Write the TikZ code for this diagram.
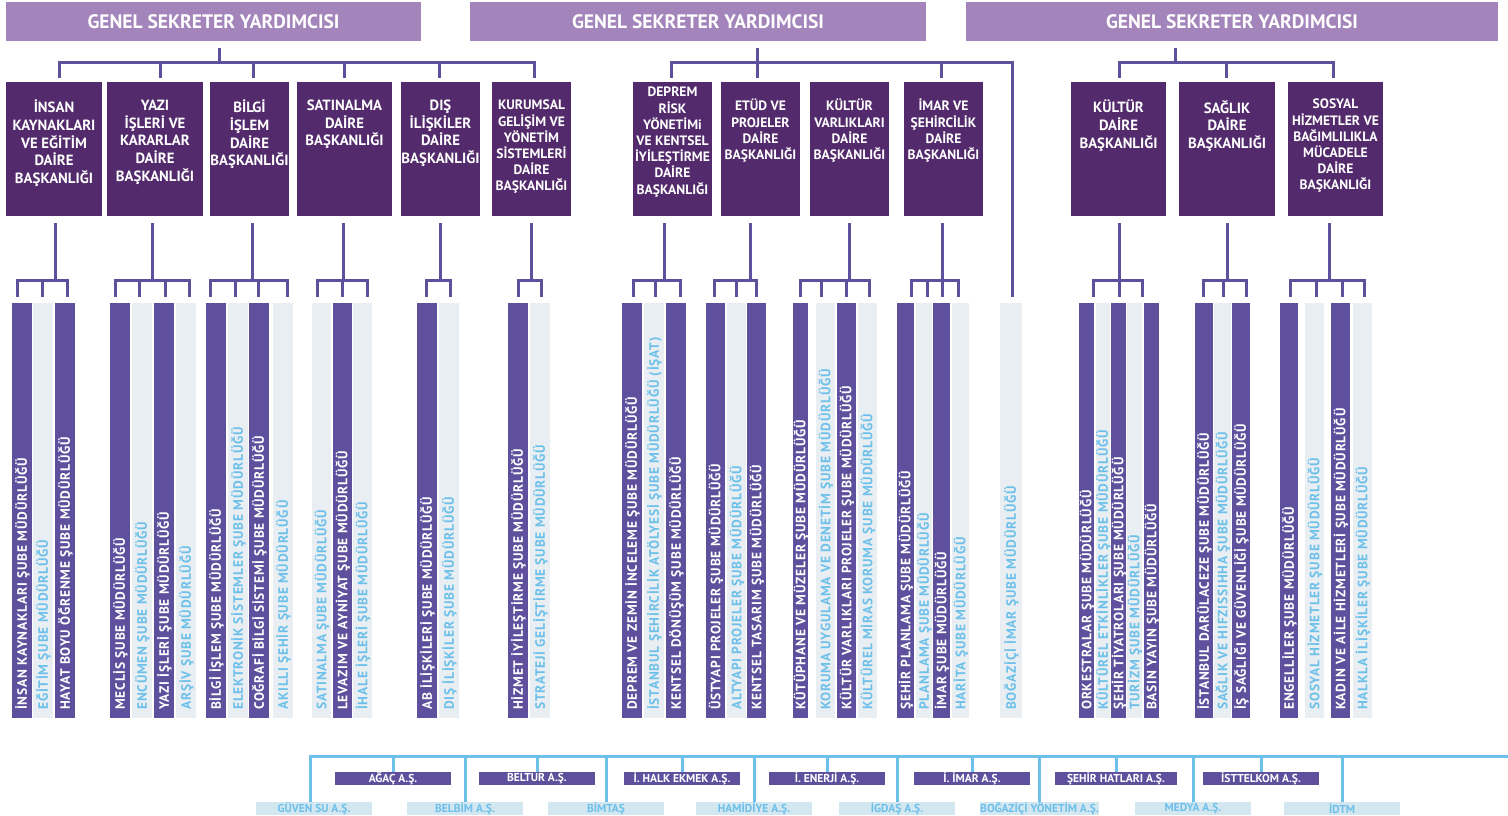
\documentclass[tikz,border=0pt]{standalone}
\usepackage{fontspec}
\setmainfont{PT Sans}
\newfontfamily\barfont[LetterSpace=6]{PT Sans}
\usetikzlibrary{calc}
\definecolor{hdr}{HTML}{A385BB}
\definecolor{dbx}{HTML}{532A6B}
\definecolor{pbar}{HTML}{5E509D}
\definecolor{lbar}{HTML}{E9EEF2}
\definecolor{ltxt}{HTML}{6CC0EA}
\definecolor{lbox}{HTML}{D3E7F1}
\newcommand{\mkdbox}[8]{%
  \node[dbxs, minimum width={#3-#2}] (#1) at ({(#2+#3)/2},149) {};
  \node[#4] (#1t) at ({(#2+#3)/2},#5) {#8};
  \coordinate (#1u) at (#6,78);
  \coordinate (#1l) at (#7,223);
}
\newcommand{\mkbar}[6]{%
  \node[#4, minimum width={#3-#2}] (#1) at ({(#2+#3)/2},510.5) {};
  \node[#4t] (#1t) at ({(#2+#3)/2+4.8},710) {#6};
  \coordinate (#1d) at (#5,297);
}
\newcommand{\compU}[4]{\node[cpu, minimum width=#3] (#1) at ({#2+#3/2},778.5) {#4};}
\newcommand{\compL}[4]{\node[cpl, minimum width=#3] (#1) at ({#2+#3/2},808.5) {#4};}
\newcommand{\subt}[3]{\draw[conn] (#1l) -- (#1l |- sy); \draw[conn] (#2d) -- (#2d |- sy) -- (#3d |- sy) -- (#3d);}
\newcommand{\drp}[1]{\draw[conn] (#1d) -- (#1d |- sy);}
\tikzset{
 conn/.style={draw=pbar, line width=3pt},
 bconn/.style={draw=ltxt, line width=3pt},
 hdrbox/.style={fill=hdr, text=white, font=\bfseries\fontsize{19.5}{22}\selectfont, minimum height=39, inner sep=0},
 dbxs/.style={fill=dbx, minimum height=134, inner sep=0},
 dbig/.style={text=white, font=\bfseries\fontsize{14.8}{17.6}\selectfont, align=center, anchor=north, inner sep=0},
 dsmall/.style={text=white, font=\bfseries\fontsize{13.6}{16.2}\selectfont, align=center, anchor=north, inner sep=0},
 pb/.style={fill=pbar, minimum height=415, inner sep=0},
 lb/.style={fill=lbar, minimum height=415, inner sep=0},
 pbt/.style={text=white, rotate=90, anchor=base west, inner sep=0, font=\barfont\bfseries\fontsize{13.5}{14}\selectfont},
 lbt/.style={text=ltxt, rotate=90, anchor=base west, inner sep=0, font=\barfont\bfseries\fontsize{13.5}{14}\selectfont},
 cpu/.style={fill=pbar, text=white, minimum height=13, inner sep=0, font=\bfseries\fontsize{11.5}{12}\selectfont},
 cpl/.style={fill=lbox, text=ltxt, minimum height=13, inner sep=0, font=\bfseries\fontsize{11.5}{12}\selectfont},
}
\begin{document}
\begin{tikzpicture}[x=1pt,y=-1pt]
\useasboundingbox (0,0) rectangle (1508,815);
% headers
\node[hdrbox, minimum width=415] (h1) at (213.5,21.5) {GENEL SEKRETER YARDIMCISI};
\node[hdrbox, minimum width=456] (h2) at (698,21.5) {GENEL SEKRETER YARDIMCISI};
\node[hdrbox, minimum width=532] (h3) at (1232,21.5) {GENEL SEKRETER YARDIMCISI};
\coordinate (h1s) at (219,48); \coordinate (tb1) at (219,62);
\coordinate (h2s) at (757,48); \coordinate (tb2) at (757,62);
\coordinate (h3s) at (1175,48); \coordinate (tb3) at (1175,62);
\coordinate (sy) at (0,280);
\coordinate (bend) at (1508,756);
% department boxes
\mkdbox{d1}{6}{102}{dbig}{100}{59}{55}{İNSAN\\KAYNAKLARI\\VE EĞİTİM\\DAİRE\\BAŞKANLIĞI}
\mkdbox{d2}{107}{203}{dbig}{100}{160}{152}{YAZI\\İŞLERİ VE\\KARARLAR\\DAİRE\\BAŞKANLIĞI}
\mkdbox{d3}{210}{289}{dbig}{100}{253}{252}{BİLGİ\\İŞLEM\\DAİRE\\BAŞKANLIĞI}
\mkdbox{d4}{297}{392}{dbig}{100}{344}{343}{SATINALMA\\DAİRE\\BAŞKANLIĞI}
\mkdbox{d5}{401}{480}{dbig}{100}{439}{440}{DIŞ\\İLİŞKİLER\\DAİRE\\BAŞKANLIĞI}
\mkdbox{d6}{492}{571}{dsmall}{100}{534}{531}{KURUMSAL\\GELİŞİM VE\\YÖNETİM\\SİSTEMLERİ\\DAİRE\\BAŞKANLIĞI}
\mkdbox{d7}{633}{712}{dsmall}{87}{671}{664}{DEPREM\\RİSK\\YÖNETİMi\\VE KENTSEL\\İYİLEŞTİRME\\DAİRE\\BAŞKANLIĞI}
\mkdbox{d8}{721}{800}{dsmall}{99}{757}{750}{ETÜD VE\\PROJELER\\DAİRE\\BAŞKANLIĞI}
\mkdbox{d9}{810}{889}{dsmall}{99}{849}{849}{KÜLTÜR\\VARLIKLARI\\DAİRE\\BAŞKANLIĞI}
\mkdbox{d10}{904}{983}{dsmall}{99}{941}{942}{İMAR VE\\ŞEHİRCİLİK\\DAİRE\\BAŞKANLIĞI}
\mkdbox{d11}{1071}{1166}{dbig}{100}{1119}{1119}{KÜLTÜR\\DAİRE\\BAŞKANLIĞI}
\mkdbox{d12}{1179}{1275}{dbig}{100}{1226}{1227}{SAĞLIK\\DAİRE\\BAŞKANLIĞI}
\mkdbox{d13}{1288}{1383}{dsmall}{99}{1333}{1329}{SOSYAL\\HİZMETLER VE\\BAĞIMLILIKLA\\MÜCADELE\\DAİRE\\BAŞKANLIĞI}
% bars
\mkbar{b1a}{12}{32}{pb}{17}{İNSAN KAYNAKLARI ŞUBE MÜDÜRLÜĞÜ}
\mkbar{b1b}{33}{53}{lb}{42}{EĞİTİM ŞUBE MÜDÜRLÜĞÜ}
\mkbar{b1c}{55}{75}{pb}{67}{HAYAT BOYU ÖĞRENME ŞUBE MÜDÜRLÜĞÜ}
\mkbar{b2a}{110}{130}{pb}{115}{MECLİS ŞUBE MÜDÜRLÜĞÜ}
\mkbar{b2b}{132}{152}{lb}{139}{ENCÜMEN ŞUBE MÜDÜRLÜĞÜ}
\mkbar{b2c}{154}{174}{pb}{165}{YAZI İŞLERİ ŞUBE MÜDÜRLÜĞÜ}
\mkbar{b2d}{176}{196}{lb}{189}{ARŞİV ŞUBE MÜDÜRLÜĞÜ}
\mkbar{b3a}{206}{226}{pb}{210}{BİLGİ İŞLEM ŞUBE MÜDÜRLÜĞÜ}
\mkbar{b3b}{228}{248}{lb}{235}{ELEKTRONİK SİSTEMLER ŞUBE MÜDÜRLÜĞÜ}
\mkbar{b3c}{249}{269}{pb}{258}{COĞRAFİ BİLGİ SİSTEMİ ŞUBE MÜDÜRLÜĞÜ}
\mkbar{b3d}{273}{293}{lb}{287}{AKILLI ŞEHİR ŞUBE MÜDÜRLÜĞÜ}
\mkbar{b4a}{312}{331}{lb}{317}{SATINALMA ŞUBE MÜDÜRLÜĞÜ}
\mkbar{b4b}{333}{352}{pb}{342}{LEVAZIM VE AYNİYAT ŞUBE MÜDÜRLÜĞÜ}
\mkbar{b4c}{353}{372}{lb}{367}{İHALE İŞLERİ ŞUBE MÜDÜRLÜĞÜ}
\mkbar{b5a}{417}{437}{pb}{426}{AB İLİŞKİLERİ ŞUBE MÜDÜRLÜĞÜ}
\mkbar{b5b}{439}{459}{lb}{450}{DIŞ İLİŞKİLER ŞUBE MÜDÜRLÜĞÜ}
\mkbar{b6a}{508}{528}{pb}{518}{HİZMET İYİLEŞTİRME ŞUBE MÜDÜRLÜĞÜ}
\mkbar{b6b}{530}{550}{lb}{541}{STRATEJİ GELİŞTİRME ŞUBE MÜDÜRLÜĞÜ}
\mkbar{b7a}{622}{642}{pb}{633}{DEPREM VE ZEMİN İNCELEME ŞUBE MÜDÜRLÜĞÜ}
\mkbar{b7b}{644}{664}{lb}{655}{İSTANBUL ŞEHİRCİLİK ATÖLYESİ ŞUBE MÜDÜRLÜĞÜ (İŞAT)}
\mkbar{b7c}{666}{686}{pb}{680}{KENTSEL DÖNÜŞÜM ŞUBE MÜDÜRLÜĞÜ}
\mkbar{b8a}{706}{725}{pb}{714}{ÜSTYAPI PROJELER ŞUBE MÜDÜRLÜĞÜ}
\mkbar{b8b}{727}{746}{lb}{736}{ALTYAPI PROJELER ŞUBE MÜDÜRLÜĞÜ}
\mkbar{b8c}{747}{766}{pb}{756}{KENTSEL TASARIM ŞUBE MÜDÜRLÜĞÜ}
\mkbar{b9a}{793}{808}{pb}{800}{KÜTÜPHANE VE MÜZELER ŞUBE MÜDÜRLÜĞÜ}
\mkbar{b9b}{816}{835}{lb}{821}{KORUMA UYGULAMA VE DENETİM ŞUBE MÜDÜRLÜĞÜ}
\mkbar{b9c}{837}{856}{pb}{846}{KÜLTÜR VARLIKLARI PROJELER ŞUBE MÜDÜRLÜĞÜ}
\mkbar{b9d}{858}{877}{lb}{869}{KÜLTÜREL MİRAS KORUMA ŞUBE MÜDÜRLÜĞÜ}
\mkbar{b10a}{897}{914}{pb}{911}{ŞEHİR PLANLAMA ŞUBE MÜDÜRLÜĞÜ}
\mkbar{b10b}{916}{932}{lb}{927}{PLANLAMA ŞUBE MÜDÜRLÜĞÜ}
\mkbar{b10c}{933}{950}{pb}{942}{İMAR ŞUBE MÜDÜRLÜĞÜ}
\mkbar{b10d}{952}{969}{lb}{958}{HARİTA ŞUBE MÜDÜRLÜĞÜ}
\mkbar{b11}{1000}{1022}{lb}{1012}{BOĞAZİÇİ İMAR ŞUBE MÜDÜRLÜĞÜ}
\mkbar{b12a}{1079}{1094}{pb}{1093}{ORKESTRALAR ŞUBE MÜDÜRLÜĞÜ}
\mkbar{b12b}{1096}{1110}{lb}{1103}{KÜLTÜREL ETKİNLİKLER ŞUBE MÜDÜRLÜĞÜ}
\mkbar{b12c}{1111}{1126}{pb}{1119}{ŞEHİR TİYATROLARI ŞUBE MÜDÜRLÜĞÜ}
\mkbar{b12d}{1127}{1142}{lb}{1135}{TURİZM ŞUBE MÜDÜRLÜĞÜ}
\mkbar{b12e}{1144}{1159}{pb}{1142}{BASIN YAYIN ŞUBE MÜDÜRLÜĞÜ}
\mkbar{b13a}{1195}{1213}{pb}{1203}{İSTANBUL DARÜLACEZE ŞUBE MÜDÜRLÜĞÜ}
\mkbar{b13b}{1214}{1231}{lb}{1223}{SAĞLIK VE HIFZISSIHHA ŞUBE MÜDÜRLÜĞÜ}
\mkbar{b13c}{1232}{1250}{pb}{1246}{İŞ SAĞLIĞI VE GÜVENLİĞİ ŞUBE MÜDÜRLÜĞÜ}
\mkbar{b14a}{1280}{1298}{pb}{1290}{ENGELLİLER ŞUBE MÜDÜRLÜĞÜ}
\mkbar{b14b}{1305}{1324}{lb}{1316}{SOSYAL HİZMETLER ŞUBE MÜDÜRLÜĞÜ}
\mkbar{b14c}{1331}{1350}{pb}{1342}{KADIN VE AİLE HİZMETLERİ ŞUBE MÜDÜRLÜĞÜ}
\mkbar{b14d}{1353}{1372}{lb}{1364}{HALKLA İLİŞKİLER ŞUBE MÜDÜRLÜĞÜ}
% top connectors
\draw[conn] (h1s) -- (tb1);
\draw[conn] (d1u) |- (tb1) -| (d6u);
\draw[conn] (d2u) -- (d2u |- tb1);
\draw[conn] (d3u) -- (d3u |- tb1);
\draw[conn] (d4u) -- (d4u |- tb1);
\draw[conn] (d5u) -- (d5u |- tb1);
\draw[conn] (h2s) -- (d8u);
\draw[conn] (d7u) |- (tb2) -| (b11d);
\draw[conn] (d10u) -- (d10u |- tb2);
\draw[conn] (h3s) -- (tb3);
\draw[conn] (d11u) |- (tb3) -| (d13u);
\draw[conn] (d12u) -- (d12u |- tb3);
% sub trees
\subt{d1}{b1a}{b1c} \drp{b1b}
\subt{d2}{b2a}{b2d} \drp{b2b} \drp{b2c}
\subt{d3}{b3a}{b3d} \drp{b3b} \drp{b3c}
\subt{d4}{b4a}{b4c} \drp{b4b}
\subt{d5}{b5a}{b5b}
\subt{d6}{b6a}{b6b}
\subt{d7}{b7a}{b7c} \drp{b7b}
\subt{d8}{b8a}{b8c} \drp{b8b}
\subt{d9}{b9a}{b9d} \drp{b9b} \drp{b9c}
\subt{d10}{b10a}{b10d} \drp{b10b} \drp{b10c}
\subt{d11}{b12a}{b12e} \drp{b12c}
\subt{d12}{b13a}{b13c} \drp{b13b}
\subt{d13}{b14a}{b14d} \drp{b14b} \drp{b14c}
% companies
\compU{u1}{335}{116}{AĞAÇ A.Ş.}
\compU{u2}{479}{116}{BELTUR A.Ş.}
\compU{u3}{624}{116}{İ. HALK EKMEK A.Ş.}
\compU{u4}{769}{116}{İ. ENERJİ A.Ş.}
\compU{u5}{914}{116}{İ. İMAR A.Ş.}
\compU{u6}{1055}{122}{ŞEHİR HATLARI A.Ş.}
\compU{u7}{1203}{116}{İSTTELKOM A.Ş.}
\compL{l1}{256}{116}{GÜVEN SU A.Ş.}
\compL{l2}{407}{116}{BELBİM A.Ş.}
\compL{l3}{548}{116}{BİMTAŞ}
\compL{l4}{696}{116}{HAMİDİYE A.Ş.}
\compL{l5}{839}{116}{İGDAŞ A.Ş.}
\compL{l6}{982}{115}{BOĞAZİÇİ YÖNETİM A.Ş.}
\compL{l7}{1135}{116}{MEDYA A.Ş.}
\compL{l8}{1284}{116}{İDTM}
\draw[bconn] ([xshift=-4]l1.north) |- (bend);
\foreach \c in {l2,l3,l4,l5,l6,l7,l8,u1,u2,u3,u4,u5,u6,u7}
  \draw[bconn] (\c.north) -- (\c.north |- bend);
\end{tikzpicture}
\end{document}
